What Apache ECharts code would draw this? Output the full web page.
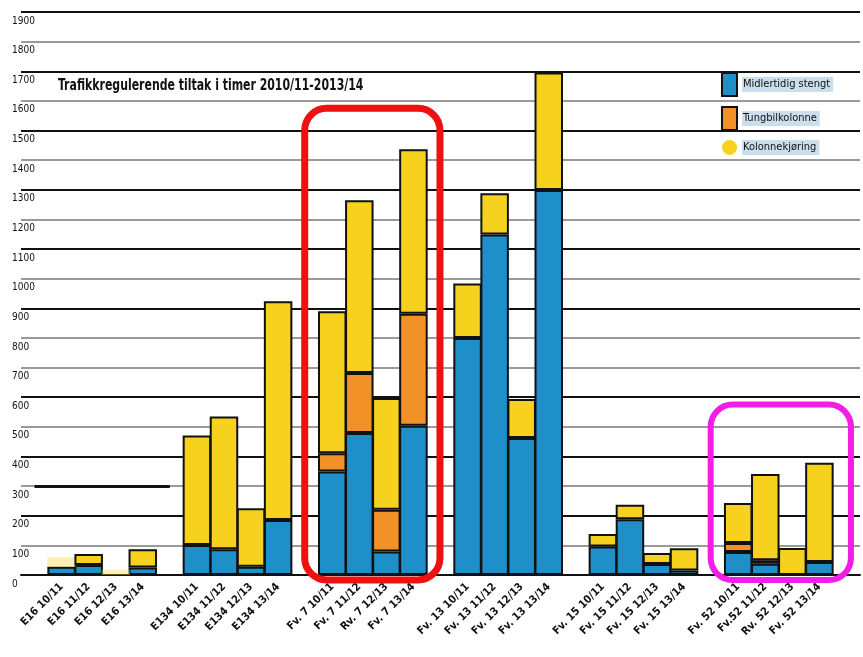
<!DOCTYPE html>
<html>
<head>
<meta charset="utf-8">
<script src="https://cdn.jsdelivr.net/npm/echarts@6/dist/echarts.min.js"></script>
<style>
  html, body { margin: 0; padding: 0; background: #fff; }
  #chart { width: 863px; height: 657px; }
</style>
</head>
<body>
<div id="chart"></div>
<script>
// Road stretches (groups) and winter seasons
const roads = ['E16', 'E134', 'Fv. 7', 'Fv. 13', 'Fv. 15', 'Fv. 52'];
const categories = [
  'E16 10/11', 'E16 11/12', 'E16 12/13', 'E16 13/14',
  'E134 10/11', 'E134 11/12', 'E134 12/13', 'E134 13/14',
  'Fv. 7 10/11', 'Fv. 7 11/12', 'Rv. 7 12/13', 'Fv. 7 13/14',
  'Fv. 13 10/11', 'Fv. 13 11/12', 'Fv. 13 12/13', 'Fv. 13 13/14',
  'Fv. 15 10/11', 'Fv. 15 11/12', 'Fv. 15 12/13', 'Fv. 15 13/14',
  'Fv. 52 10/11', 'Fv.52 11/12', 'Rv. 52 12/13', 'Fv. 52 13/14'
];

// Hours per measure (stacked: bottom to top)
const midlertidigStengt = [28, 34, null, 25, 101, 87, 28, 186, 349, 479, 79, 504, 800, 1149, 462, 1299, 96, 188, 37, 15, 78, 38, null, 44];
const tungbilkolonne    = [null, null, null, null, null, null, null, null, 62, 203, 141, 378, null, null, null, null, null, null, null, null, 30, 12, null, null];
const kolonnekjoring    = [32, 37, 18, 62, 370, 448, 197, 738, 479, 583, 377, 555, 184, 139, 132, 397, 42, 49, 37, 75, 135, 291, 91, 335];

// Segments that are only faintly printed
const faintKolonne = [0, 2];

const seriesNames = ['Midlertidig stengt', 'Tungbilkolonne', 'Kolonnekjøring'];
const colors = ['#1f8fc9', '#f29128', '#f6d21f'];
const chartTitle = 'Trafikkregulerende tiltak i timer 2010/11-2013/14';

// y-axis ticks
const yMin = 0, yMax = 1900, yStep = 100;
// gridlines drawn dark; the rest are grey
const darkLines = [0, 200, 400, 600, 900, 1100, 1300, 1500, 1700, 1900];

const FONT = "'Liberation Sans Narrow', 'DejaVu Sans Condensed', 'Roboto', sans-serif";

// Build axis slots: one empty slot before every group and one at the end
const slots = [];
const slotIndex = [];
let gapNo = 0;
roads.forEach((r, g) => {
  slots.push('gap' + (gapNo++));
  for (let k = 0; k < 4; k++) {
    slotIndex.push(slots.length);
    slots.push(categories[g * 4 + k]);
  }
});
slots.push('gap' + (gapNo++));

function toSlots(values, faint) {
  const out = slots.map(() => null);
  values.forEach((v, i) => {
    if (v == null) return;
    if (faint && faint.indexOf(i) >= 0) {
      out[slotIndex[i]] = { value: v, itemStyle: { opacity: 0.35, borderWidth: 0 } };
    } else {
      out[slotIndex[i]] = v;
    }
  });
  return out;
}

const splitColors = [];
for (let v = yMin; v <= yMax; v += yStep) {
  splitColors.push(darkLines.indexOf(v) >= 0 ? '#111' : '#9a9a9a');
}

const barStyle = (c) => ({ color: c, borderColor: '#111', borderWidth: 2 });

const chart = echarts.init(document.getElementById('chart'), null, { renderer: 'canvas' });

chart.setOption({
  backgroundColor: '#fff',
  animation: false,
  legend: {
    orient: 'vertical',
    left: 716, top: 67,
    itemWidth: 15, itemHeight: 23, itemGap: 9,
    data: [
      { name: seriesNames[0], icon: 'rect' },
      { name: seriesNames[1], icon: 'rect' },
      { name: seriesNames[2], icon: 'circle', itemStyle: { borderWidth: 0 } }
    ],
    textStyle: {
      fontFamily: FONT, fontSize: 11, color: '#111',
      backgroundColor: '#cadeed', padding: [2, 3, 2, 1]
    }
  },
  grid: { left: 21, right: 3, top: 12, bottom: 82 },
  xAxis: {
    type: 'category',
    data: slots,
    axisLine: { show: true, lineStyle: { color: '#111', width: 2 } },
    axisTick: { show: false },
    axisLabel: {
      interval: 0,
      rotate: 45,
      margin: 10,
      fontFamily: FONT, fontSize: 11, fontWeight: 'bold', color: '#111',
      formatter: (v) => (v.indexOf('gap') === 0 ? '' : v)
    },
    splitLine: { show: false }
  },
  yAxis: {
    type: 'value',
    min: yMin, max: yMax, interval: yStep,
    axisLine: { show: false },
    axisTick: { show: false },
    axisLabel: {
      align: 'left', verticalAlign: 'top', margin: 9,
      padding: [4, 0, 0, 0],
      fontFamily: FONT, fontSize: 10, color: '#111',
      formatter: (v) => String(v)
    },
    splitLine: { show: true, lineStyle: { color: splitColors, width: 2 } }
  },
  series: [
    {
      name: seriesNames[0], type: 'bar', stack: 'tid',
      barWidth: 28.5,
      itemStyle: barStyle(colors[0]),
      data: toSlots(midlertidigStengt),
      markLine: {
        silent: true, symbol: 'none', label: { show: false },
        lineStyle: { color: '#111', width: 3, type: 'solid' },
        data: [[{ coord: ['gap0', 300] }, { coord: ['gap1', 300] }]]
      }
    },
    {
      name: seriesNames[1], type: 'bar', stack: 'tid',
      barWidth: 28.5,
      itemStyle: barStyle(colors[1]),
      data: toSlots(tungbilkolonne)
    },
    {
      name: seriesNames[2], type: 'bar', stack: 'tid',
      barWidth: 28.5,
      itemStyle: barStyle(colors[2]),
      data: toSlots(kolonnekjoring, faintKolonne)
    }
  ]
});

// Highlight frames around two road groups
const frames = [
  { from: 'Fv. 7 10/11', to: 'Fv. 7 13/14', top: 1575, color: '#ee1111', width: 7, padL: 14, padR: 13 },
  { from: 'Fv. 52 10/11', to: 'Fv. 52 13/14', top: 575, color: '#f01ee6', width: 6, padL: 14, padR: 18 }
];
const half = chart.getModel().getComponent('xAxis', 0).axis.getBandWidth() / 2;
const graphics = frames.map((f) => {
  const x0 = chart.convertToPixel({ xAxisIndex: 0 }, f.from) - half - f.padL;
  const x1 = chart.convertToPixel({ xAxisIndex: 0 }, f.to) + half + f.padR;
  const y0 = chart.convertToPixel({ yAxisIndex: 0 }, f.top);
  const y1 = chart.convertToPixel({ yAxisIndex: 0 }, 0) + 5;
  return {
    type: 'rect', silent: true, z: 100,
    shape: { x: x0, y: y0, width: x1 - x0, height: y1 - y0, r: 22 },
    style: { fill: 'none', stroke: f.color, lineWidth: f.width }
  };
});

// Condensed heading inside the plot
graphics.push({
  type: 'text', silent: true, z: 50,
  x: 58, y: 79, scaleX: 0.81,
  style: {
    text: chartTitle,
    fontFamily: FONT, fontSize: 15, fontWeight: 'bold', fill: '#111',
    textVerticalAlign: 'top'
  }
});
chart.setOption({ graphic: graphics });
</script>
</body>
</html>
